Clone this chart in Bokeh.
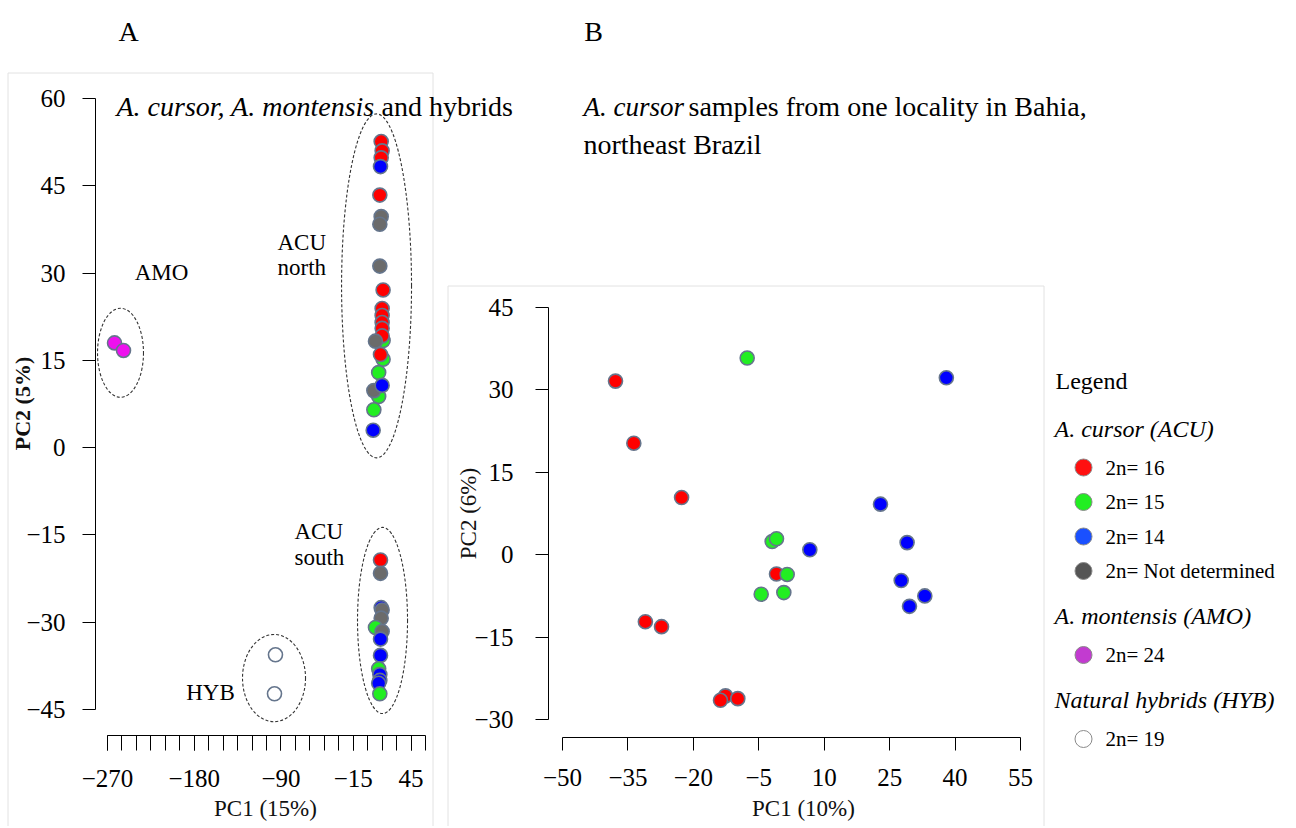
import math
from bokeh.plotting import figure
from bokeh.models import Range1d, LinearAxis, FixedTicker, ColumnDataSource, CustomJSTickFormatter
from bokeh.core.properties import value
from bokeh.embed import file_html
from bokeh.resources import INLINE

# ---------------- data ----------------
# Panel A: A. cursor, A. montensis and hybrids (PC1 15%, PC2 5%)
A_PC1 = [14.0, 15.0, 14.0, 13.3, 12.6, 14.0, 12.6, 12.6, 16.0,
         16.0, 16.0, 15.0, 15.0, 15.0, 15.0, 15.0, 8.1, 13.3,
         11.4, 11.4, 6.4, 15.0, 6.4, 5.7,
         13.3, 13.3, 14.0, 15.0, 14.0, 8.1, 15.0, 13.3, 13.3, 11.4, 12.6, 12.6, 11.4, 12.6,
         -262.7, -253.4,
         -95.7, -96.7]
A_PC2 = [52.6, 51.0, 49.8, 48.3, 43.4, 39.7, 38.4, 31.2, 27.1,
         18.4, 15.2, 23.9, 22.7, 21.5, 20.5, 19.2, 18.3, 16.0,
         12.9, 8.8, 9.8, 10.7, 6.5, 3.0,
         -19.3, -21.6, -27.5, -27.9, -29.3, -30.9, -31.6, -32.9, -35.7, -38.0, -39.0, -40.0, -40.5, -42.3,
         18.0, 16.7,
         -35.6, -42.3]
A_KARYO = ["16", "16", "16", "14", "16", "ND", "ND", "ND", "16",
           "15", "15", "16", "16", "16", "16", "16", "ND", "16",
           "15", "15", "ND", "14", "15", "14",
           "16", "ND", "14", "ND", "ND", "15", "ND", "14", "14", "15", "14", "14", "14", "15",
           "24", "24",
           "19", "19"]

# Panel B: A. cursor from one locality in Bahia (PC1 10%, PC2 6%)
B_PC1 = [-37.85, -33.65, -7.66, -22.7, -31.0, -27.3, -1.93, -0.94, 6.7, -0.94, 1.51,
         -4.45, 0.74, -12.63, -13.78, -9.81, 38.0, 22.9, 29.0, 27.65, 33.06, 29.55]
B_PC2 = [31.6, 20.3, 35.8, 10.4, -12.2, -13.1, 2.4, 2.9, 0.9, -3.5, -3.6,
         -7.2, -6.9, -25.7, -26.5, -26.2, 32.2, 9.2, 2.2, -4.7, -7.5, -9.4]
B_KARYO = ["16", "16", "15", "16", "16", "16", "15", "15", "14", "16", "15",
           "15", "15", "16", "16", "16", "14", "14", "14", "14", "14", "14"]

# Group outlines in panel A (centre, width, height in PC units)
GROUP_NAMES = ["AMO", "ACU north", "ACU south", "HYB"]
GROUP_CX = [-256.5, 9.2, 15.4, -97.2]
GROUP_CY = [16.3, 27.8, -29.7, -39.6]
GROUP_W = [47.7, 72.6, 51.9, 65.4]
GROUP_H = [15.3, 59.1, 32.0, 15.0]

A_X_TICKS = list(range(-270, 61, 15))
A_X_LABELLED = [-270, -180, -90, -15, 45]
A_Y_TICKS = [-45, -30, -15, 0, 15, 30, 45, 60]
B_X_TICKS = [-50, -35, -20, -5, 10, 25, 40, 55]
B_Y_TICKS = [-30, -15, 0, 15, 30, 45]

LEGEND_HEADERS = ["A. cursor (ACU)", "A. montensis (AMO)", "Natural hybrids (HYB)"]
LEGEND_LABELS = [["2n= 16", "2n= 15", "2n= 14", "2n= Not determined"], ["2n= 24"], ["2n= 19"]]
LEGEND_KEYS = [["16", "15", "14", "ND"], ["24"], ["19"]]

# ---------------- styles ----------------
PLOT_COLORS = {"16": "#ff0000", "15": "#22ee22", "14": "#0000ff", "ND": "#6b6b6b",
               "24": "#ee10ee", "19": "#ffffff"}
LEGEND_COLORS = {"16": "#ff1010", "15": "#22ee22", "14": "#1a50ff", "ND": "#555555",
                 "24": "#c23bd0", "19": "#ffffff"}
FONT = "Liberation Serif"
OUTLINE = "#65758c"

W, H = 1290, 826
PX0, PY0 = 0, 0  # page position of the canvas


def lin_range(v0, p0, v1, p1, pstart, pend):
    slope = (p1 - p0) / (v1 - v0)
    return Range1d(v0 + (pstart - p0) / slope, v0 + (pend - p0) / slope)


def inv(v0, p0, v1, p1, p):
    slope = (p1 - p0) / (v1 - v0)
    return v0 + (p - p0) / slope


# page-pixel anchors of the two panels
AX = (-270, 107, 60, 425)
AY = (60, 98, -45, 709)
BX = (-50, 562, 55, 1020)
BY = (45, 307, -30, 719)

p = figure(width=W, height=H, x_range=Range1d(PX0, PX0 + W), y_range=Range1d(PY0 + H, PY0),
           x_axis_location=None, y_axis_location=None, min_border=0,
           output_backend="svg", toolbar_location=None)
for g in p.grid:
    g.visible = False
p.outline_line_color = None

p.extra_x_ranges = {"xa": lin_range(*AX, PX0, PX0 + W), "xb": lin_range(*BX, PX0, PX0 + W)}
p.extra_y_ranges = {"ya": lin_range(*AY, PY0 + H, PY0), "yb": lin_range(*BY, PY0 + H, PY0)}

# panel frames (light boxes)
p.quad(left=[7.5, 447.5], right=[432.5, 1043.5], top=[72.5, 285.5], bottom=[840, 840],
       fill_color=None, line_color="#e2e2e2", line_width=1)

minus_fmt = "return tick < 0 ? '\u2212' + Math.abs(tick) : '' + tick;"


def make_axis(xr, yr, loc, bounds, ticker, tick_len=13, standoff=14):
    ax = LinearAxis(x_range_name=xr, y_range_name=yr, fixed_location=loc, bounds=bounds, ticker=ticker,
                    formatter=CustomJSTickFormatter(code=minus_fmt))
    ax.axis_line_color = "black"
    ax.axis_line_width = 1
    ax.major_tick_line_color = "black"
    ax.major_tick_out = tick_len
    ax.major_tick_in = 0
    ax.minor_tick_line_color = "black"
    ax.minor_tick_out = tick_len
    ax.minor_tick_in = 0
    ax.major_label_standoff = standoff
    ax.major_label_text_font = FONT
    ax.major_label_text_font_size = "25px"
    ax.major_label_text_color = "black"
    return ax


p.add_layout(make_axis("xa", "ya", inv(*AX, 95), (-45, 60),
                       FixedTicker(ticks=A_Y_TICKS, minor_ticks=[]), standoff=17), "left")
p.add_layout(make_axis("xa", "ya", inv(*AY, 735), (-270, 60),
                       FixedTicker(ticks=A_X_LABELLED, minor_ticks=A_X_TICKS), tick_len=15, standoff=19), "below")
p.add_layout(make_axis("xb", "yb", inv(*BX, 548), (-30, 45),
                       FixedTicker(ticks=B_Y_TICKS, minor_ticks=[]), standoff=22), "left")
p.add_layout(make_axis("xb", "yb", inv(*BY, 737), (-50, 55),
                       FixedTicker(ticks=B_X_TICKS, minor_ticks=[]), standoff=18), "below")

# group outlines
p.ellipse(x=GROUP_CX, y=GROUP_CY, width=GROUP_W, height=GROUP_H, x_range_name="xa", y_range_name="ya",
          fill_color=None, line_color="#333333", line_width=1.1, line_dash="3 2")

# points
src_a = ColumnDataSource(dict(x=A_PC1, y=A_PC2, c=[PLOT_COLORS[k] for k in A_KARYO]))
p.scatter("x", "y", source=src_a, size=14, fill_color="c", line_color=OUTLINE, line_width=1.6,
          x_range_name="xa", y_range_name="ya")
src_b = ColumnDataSource(dict(x=B_PC1, y=B_PC2, c=[PLOT_COLORS[k] for k in B_KARYO]))
p.scatter("x", "y", source=src_b, size=14, fill_color="c", line_color=OUTLINE, line_width=1.6,
          x_range_name="xb", y_range_name="yb")


def txt(x, y, s, size, style="normal", align="left", baseline="middle", color="black", angle=0.0):
    p.text(x=[x], y=[y], text=[s], text_font=value(FONT), text_font_size=value(size),
           text_font_style=value(style), text_align=value(align), text_baseline=value(baseline),
           text_color=color, angle=angle)


# axis titles
txt(22, 403, "PC2 (5%)", "22px", style="bold", align="center", color="#111111", angle=math.pi / 2)
txt(265, 808, "PC1 (15%)", "23px", align="center", color="#111111")
txt(468, 513, "PC2 (6%)", "23px", align="center", color="#111111", angle=math.pi / 2)
txt(803, 808, "PC1 (10%)", "23px", align="center", color="#111111")

# panel letters and titles
txt(128, 31, "A", "28px", align="center", baseline="alphabetic")
txt(593, 31, "B", "28px", align="center", baseline="alphabetic")
txt(116, 106, "A. cursor, A. montensis", "28px", style="italic", baseline="alphabetic")
txt(381, 106, "and hybrids", "28px", baseline="alphabetic")
txt(583, 106, "A. cursor", "27px", style="italic", baseline="alphabetic")
txt(688, 106, "samples from one locality in Bahia,", "28px", baseline="alphabetic")
txt(583, 144, "northeast Brazil", "28px", baseline="alphabetic")

# group names
txt(161, 272, "AMO", "23px", align="center")
txt(277, 242, "ACU", "23px")
txt(277, 267, "north", "23px")
txt(294, 531, "ACU", "23px")
txt(294, 557, "south", "23px")
txt(210, 692, "HYB", "23px", align="center")

# legend
txt(1055, 380, "Legend", "24px")
y = 428.0
for header, labels, keys in zip(LEGEND_HEADERS, LEGEND_LABELS, LEGEND_KEYS):
    txt(1054, y, header, "24px", style="italic")
    y += 39
    ys = []
    for lab in labels:
        ys.append(y)
        txt(1105, y, lab, "21px")
        y += 34.5
    p.scatter(x=[1083] * len(ys), y=ys, size=17, fill_color=[LEGEND_COLORS[k] for k in keys],
              line_color="#8a8a8a", line_width=1)
    y = ys[-1] + 45

open("out.html", "w").write(file_html(p, INLINE))
